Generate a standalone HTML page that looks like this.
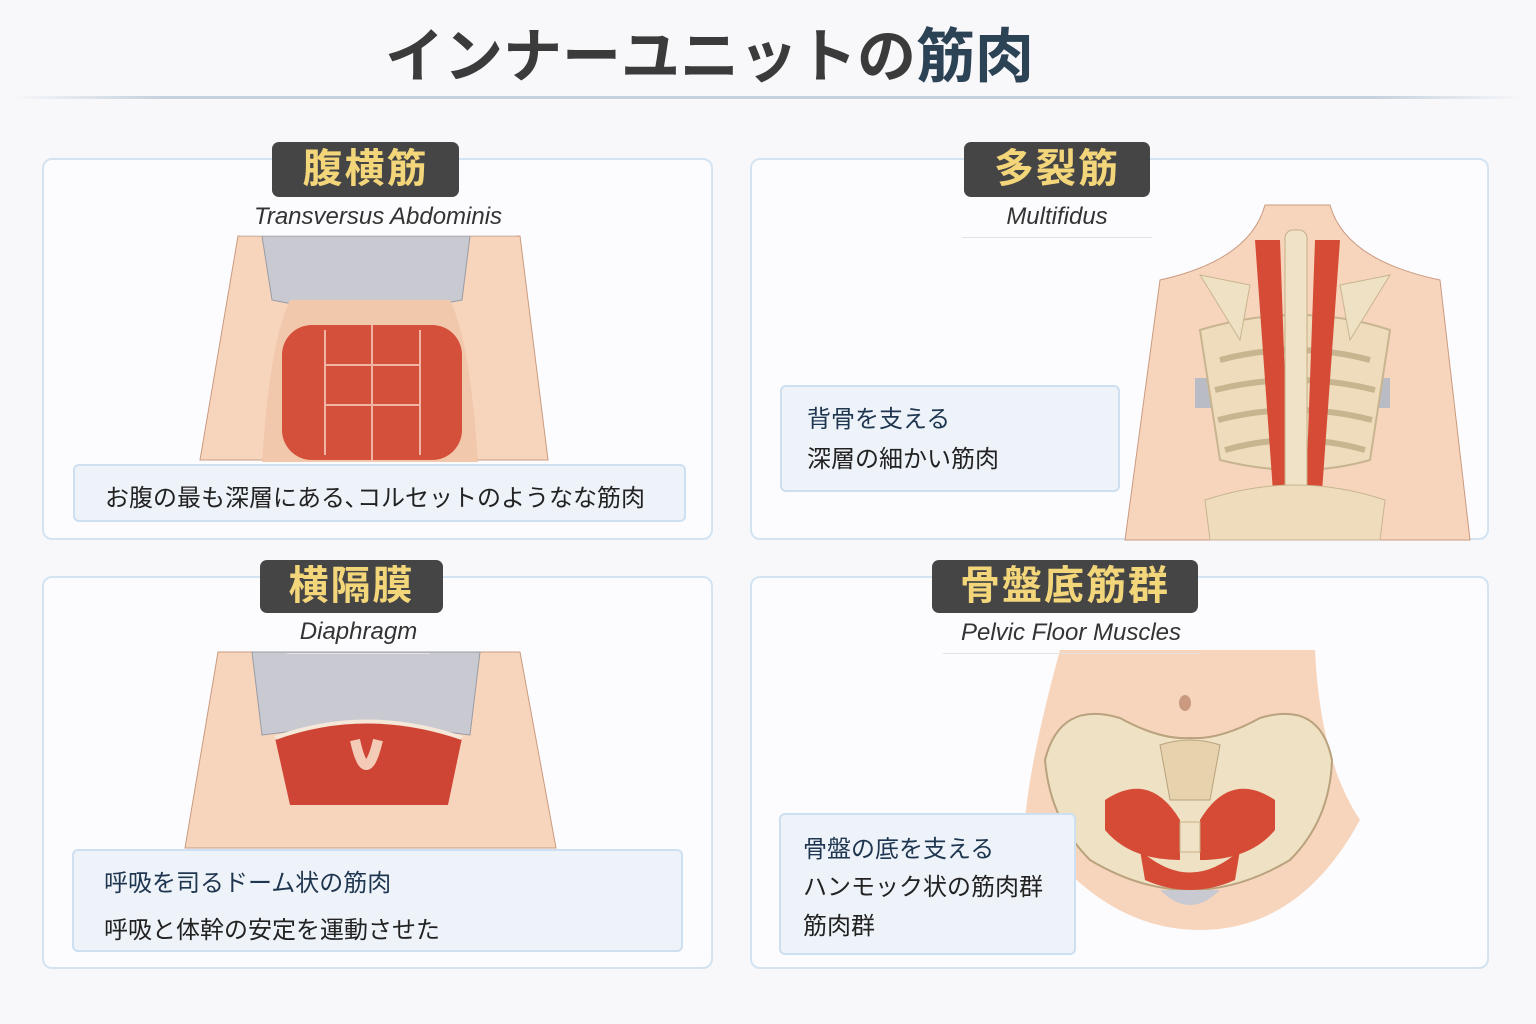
<!DOCTYPE html>
<html><head><meta charset="utf-8"><style>
*{margin:0;padding:0;box-sizing:border-box}
body{width:1536px;height:1024px;background:#f8f8fb;position:relative;overflow:hidden;font-family:"Liberation Sans","Noto Sans CJK JP",sans-serif;color:#2b2b2b}
.abs{position:absolute}
.panel{position:absolute;border:2px solid #d3e3f1;border-radius:10px;background:#fcfcfe}
.tab{position:absolute;background:#454545;border-radius:7px;color:#f4d67a;font-weight:bold;font-size:40px;text-align:center;letter-spacing:2px}
.sub{position:absolute;font-style:italic;font-size:24px;color:#333;text-align:center;border-bottom:1px solid #e2e2e2}
.box{position:absolute;border:2px solid #cddff0;border-radius:6px;background:#eef3f9;font-size:24px;color:#222}
.box div{position:absolute;left:30px;white-space:nowrap}
</style></head><body>
<div class="abs" style="left:385px;top:22px;width:660px;line-height:70px;font-size:59px;font-weight:bold;color:#3b3b3b;white-space:nowrap">インナーユニットの<span style="color:#2c4255">筋肉</span></div>
<div class="abs" style="left:10px;top:96px;width:1516px;height:3px;background:linear-gradient(90deg,transparent,#c5d1dd 10%,#c5d1dd 90%,transparent)"></div>

<div class="panel" style="left:42px;top:158px;width:671px;height:382px"></div>
<div class="panel" style="left:750px;top:158px;width:739px;height:382px"></div>
<div class="panel" style="left:42px;top:576px;width:671px;height:393px"></div>
<div class="panel" style="left:750px;top:576px;width:739px;height:393px"></div>

<svg class="abs" style="left:0;top:0" width="1536" height="1024">
<!-- TL torso -->
<path d="M238 236 L200 460 L548 460 L520 236 Z" fill="#f7d5bd" stroke="#c99a80"/>
<path d="M262 236 L470 236 L462 300 Q366 320 272 300 Z" fill="#c8c9d1" stroke="#9a9ba3"/>
<path d="M262 462 Q270 340 290 300 L450 300 Q470 340 478 462 Z" fill="#f2c8ac"/>
<rect x="282" y="325" width="180" height="135" rx="30" fill="#d5503b"/>
<g stroke="#f1b3a3" stroke-width="2"><line x1="372" y1="325" x2="372" y2="460"/><line x1="325" y1="365" x2="420" y2="365"/><line x1="325" y1="405" x2="420" y2="405"/><line x1="325" y1="330" x2="325" y2="455"/><line x1="420" y1="330" x2="420" y2="455"/></g>
<!-- TR back -->
<path d="M1160 280 Q1250 260 1265 205 L1330 205 Q1345 260 1440 280 L1470 540 L1125 540 Z" fill="#f7d5bd" stroke="#c99a80"/>
<rect x="1195" y="378" width="195" height="30" fill="#b9bcc4"/>
<path d="M1200 330 Q1300 300 1390 330 L1370 460 Q1300 480 1220 460 Z" fill="#eedcbd" stroke="#c8b58f" stroke-width="2"/>
<g stroke="#c8b58f" stroke-width="6" fill="none"><path d="M1220 360 Q1295 340 1370 360"/><path d="M1215 390 Q1295 370 1375 390"/><path d="M1218 420 Q1295 400 1372 420"/><path d="M1225 450 Q1295 430 1365 450"/></g>
<path d="M1200 275 L1250 285 L1240 340 Z M1390 275 L1340 285 L1350 340 Z" fill="#efe1c4" stroke="#c8b58f"/>
<path d="M1255 240 L1280 240 L1290 520 L1275 520 Z M1340 240 L1315 240 L1305 520 L1320 520 Z" fill="#d64b35"/>
<rect x="1285" y="230" width="22" height="300" rx="8" fill="#f0e2c6" stroke="#c4ae88"/>
<path d="M1205 500 Q1295 470 1385 500 L1380 540 L1210 540 Z" fill="#eedcbd" stroke="#c8b58f"/>
<!-- BL torso -->
<path d="M218 652 L185 848 L556 848 L520 652 Z" fill="#f7d5bd" stroke="#c99a80"/>
<path d="M252 652 L480 652 L470 735 Q366 720 262 735 Z" fill="#c8c9d1" stroke="#9a9ba3"/>
<path d="M275 738 Q366 705 462 738 L448 805 L290 805 Z" fill="#cf4535"/>
<path d="M275 738 Q366 705 462 738" stroke="#f5e8d8" stroke-width="4" fill="none"/>
<path d="M355 740 Q366 790 378 740" stroke="#f3cbb6" stroke-width="10" fill="none"/>
<!-- BR pelvis -->
<path d="M1060 650 Q1030 760 1025 820 Q1100 930 1200 930 Q1300 930 1360 820 Q1320 760 1315 650 Z" fill="#f7d5bd"/>
<ellipse cx="1185" cy="703" rx="6" ry="8" fill="#c99a80"/>
<path d="M1045 760 Q1060 700 1120 718 Q1160 740 1190 738 Q1220 740 1260 718 Q1320 700 1332 760 Q1330 820 1290 860 Q1240 890 1190 890 Q1140 890 1090 860 Q1050 820 1045 760 Z" fill="#efe1c4" stroke="#b9a27d" stroke-width="2"/>
<path d="M1105 800 Q1150 770 1180 820 L1180 860 Q1130 860 1105 830 Z M1275 800 Q1230 770 1200 820 L1200 860 Q1250 860 1275 830 Z" fill="#d64b35"/>
<path d="M1140 850 Q1190 895 1240 850 L1235 880 Q1190 900 1145 880 Z" fill="#d64b35"/>
<rect x="1180" y="822" width="20" height="30" fill="#f0e2c6" stroke="#c4ae88"/>
<path d="M1160 745 Q1190 735 1220 745 L1210 800 L1170 800 Z" fill="#e6d3ae" stroke="#b9a27d"/>
<path d="M1160 890 Q1190 920 1220 890 Z" fill="#c8c9d1"/>
</svg>

<div class="tab" style="left:272px;top:142px;width:187px;height:55px;line-height:55px">腹横筋</div>
<div class="tab" style="left:964px;top:142px;width:186px;height:55px;line-height:55px">多裂筋</div>
<div class="tab" style="left:260px;top:560px;width:183px;height:53px;line-height:53px">横隔膜</div>
<div class="tab" style="left:932px;top:560px;width:266px;height:53px;line-height:53px">骨盤底筋群</div>

<div class="sub" style="left:240px;top:203px;width:276px;height:33px">Transversus Abdominis</div>
<div class="sub" style="left:962px;top:203px;width:190px;height:35px">Multifidus</div>
<div class="sub" style="left:287px;top:618px;width:143px;height:36px">Diaphragm</div>
<div class="sub" style="left:943px;top:619px;width:256px;height:35px">Pelvic Floor Muscles</div>

<div class="box" style="left:73px;top:464px;width:613px;height:58px"><div style="top:12px">お腹の最も深層にある､コルセットのようなな筋肉</div></div>
<div class="box" style="left:780px;top:385px;width:340px;height:107px"><div style="top:12px;left:25px;color:#1f3650">背骨を支える</div><div style="top:52px;left:25px">深層の細かい筋肉</div></div>
<div class="box" style="left:72px;top:849px;width:611px;height:103px"><div style="top:12px;color:#1f3650">呼吸を司るドーム状の筋肉</div><div style="top:59px">呼吸と体幹の安定を運動させた</div></div>
<div class="box" style="left:779px;top:813px;width:297px;height:142px"><div style="top:14px;left:22px;color:#1f3650">骨盤の底を支える</div><div style="top:52px;left:22px">ハンモック状の筋肉群</div><div style="top:91px;left:22px">筋肉群</div></div>
</body></html>
